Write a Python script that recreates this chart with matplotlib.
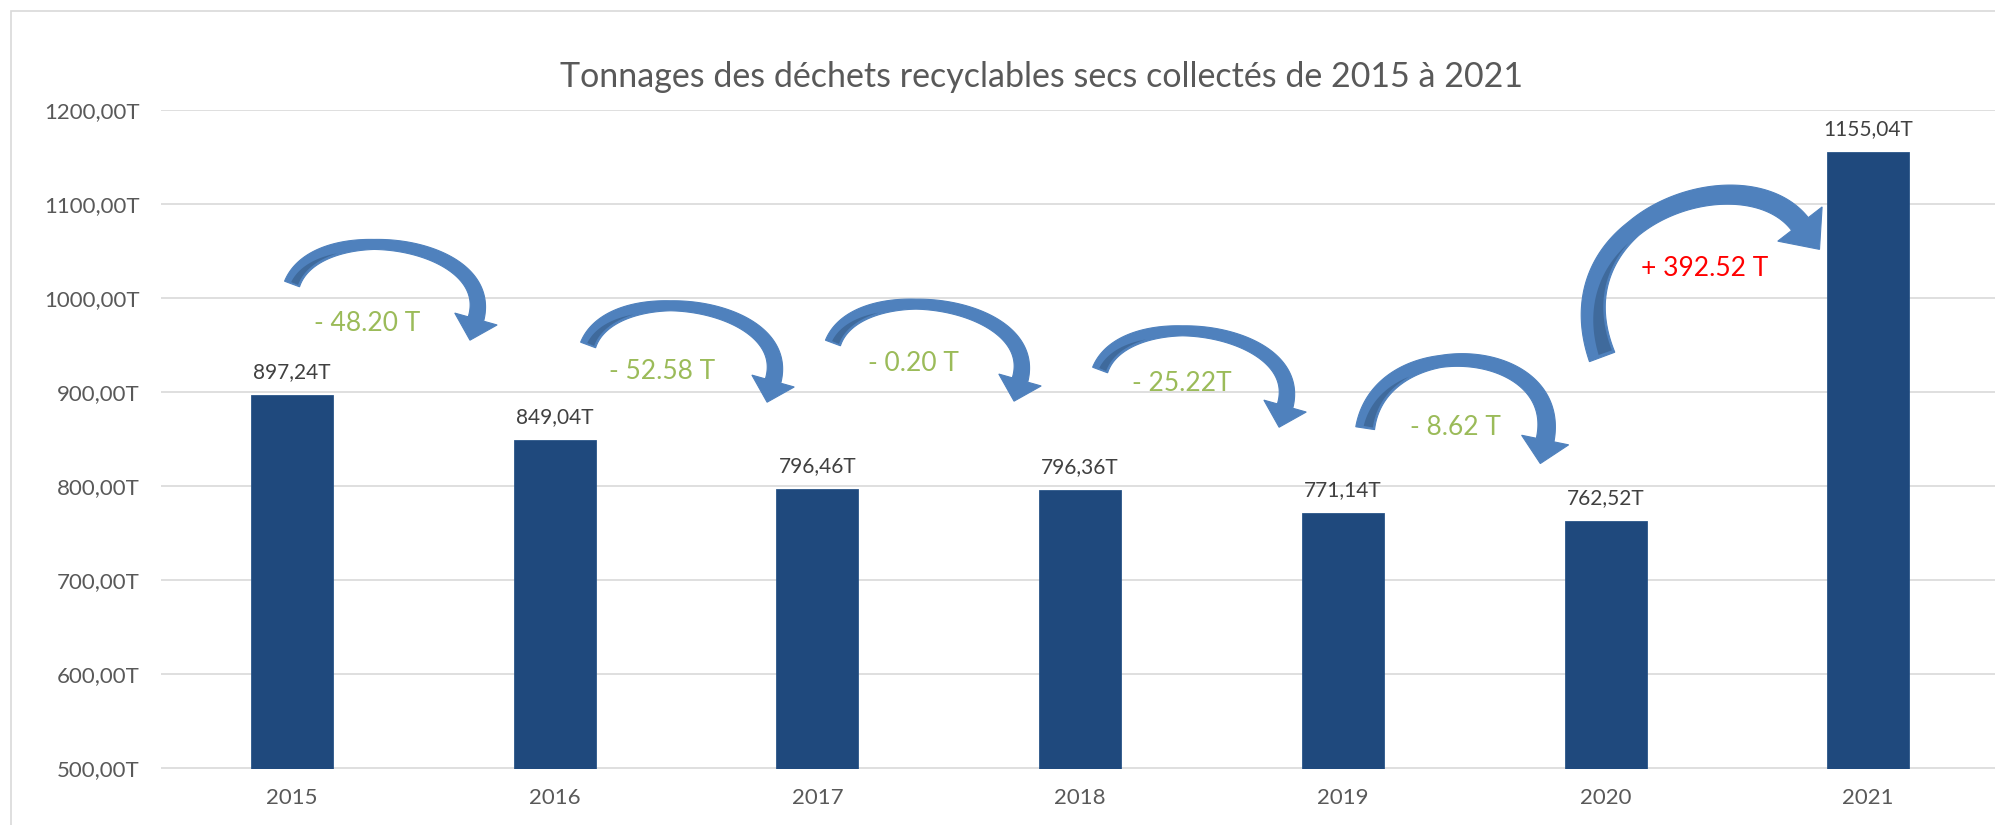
import numpy as np
import matplotlib
matplotlib.use("Agg")
import matplotlib.pyplot as plt
from matplotlib.patches import Polygon, Rectangle
from matplotlib.transforms import IdentityTransform

# ---------------- data ----------------
years = ["2015", "2016", "2017", "2018", "2019", "2020", "2021"]
tonnages = [897.24, 849.04, 796.46, 796.36, 771.14, 762.52, 1155.04]
bar_labels = ["897,24T", "849,04T", "796,46T", "796,36T", "771,14T", "762,52T", "1155,04T"]
ytick_values = [500, 600, 700, 800, 900, 1000, 1100, 1200]
ytick_labels = ["500,00T", "600,00T", "700,00T", "800,00T", "900,00T",
                "1000,00T", "1100,00T", "1200,00T"]
diff_labels = ["- 48.20 T", "- 52.58 T", "- 0.20 T", "- 25.22T", "- 8.62 T", "+ 392.52 T"]
diff_colors = ["#9BBB59"] * 5 + ["#FF0000"]
diff_x = [0.285, 1.408, 2.364, 3.388, 4.427, 5.379]
diff_y = [973.3, 922.3, 929.8, 909.6, 862.8, 1031.8]
title = "Tonnages des déchets recyclables secs collectés de 2015 à 2021"

# arrow anchors (data coords): tail point and head-base point
arrow_tail = [(0.0, 1014.8), (1.127, 950.0), (2.059, 952.1), (3.076, 923.4), (4.085, 861.6), (4.987, 937.3)]
arrow_head = [(0.700, 977.6), (1.831, 911.7), (2.771, 912.8), (3.780, 885.1), (4.770, 849.0), (5.740, 1078.5)]

W, H = 1995, 825
DPI = 100
FONT = ["Lato", "DejaVu Sans"]
plt.rcParams["font.family"] = FONT

fig = plt.figure(figsize=(W / DPI, H / DPI), dpi=DPI)
fig.patch.set_facecolor("white")

# chart border
fig.add_artist(Rectangle((10.5 / W, -0.5), 3, 1.5 - 11 / H, transform=fig.transFigure,
                         fill=False, edgecolor="#D9D9D9", lw=1.2))

left, bottom = 160.7 / W, 56.5 / H
width, height = 262.7 * 7 / W, (768.5 - 109.7) / H
ax = fig.add_axes([left, bottom, width, height])

x = np.arange(len(years))
ax.bar(x, tonnages, width=0.312, color="#1F497D", edgecolor="#2A5689", lw=0.6, zorder=2)
ax.set_xlim(-0.5, len(years) - 0.5)
ax.set_ylim(500, 1200)
ax.set_yticks(ytick_values)
ax.set_yticklabels(ytick_labels)
ax.set_xticks(x)
ax.set_xticklabels(years)
for s in ax.spines.values():
    s.set_visible(False)
ax.tick_params(axis="both", length=0, labelsize=16, labelcolor="#595959")
ax.tick_params(axis="y", pad=15)
ax.tick_params(axis="x", pad=14)
ax.yaxis.grid(True, color="#D9D9D9", lw=1.2, zorder=0)
ax.set_axisbelow(True)

for xi, v, lab in zip(x, tonnages, bar_labels):
    ax.annotate(lab, (xi, v), xytext=(0, 16.5), textcoords="offset points",
                ha="center", va="center", fontsize=15, color="#404040", zorder=5)

fig.text(1041 / W, 1 - 86.7 / H, title, ha="center", va="baseline",
         fontsize=24.5, color="#595959")

# ---------- curved arrows ----------
def bez(P0, P1, P2, P3, t):
    t = t[:, None]
    return ((1 - t) ** 3) * P0 + 3 * ((1 - t) ** 2) * t * P1 + 3 * (1 - t) * t ** 2 * P2 + t ** 3 * P3

def bez_d(P0, P1, P2, P3, t):
    t = t[:, None]
    return 3 * ((1 - t) ** 2) * (P1 - P0) + 6 * (1 - t) * t * (P2 - P1) + 3 * t ** 2 * (P3 - P2)

def unit(v):
    v = np.asarray(v, float)
    return v / np.linalg.norm(v)

def curved_arrow(tail, head, tan0, tan1, a, b, widths, head_w, head_len, dark_end,
                 color="#4F81BD", dark="#3F6A9C"):
    T = ax.transData.transform(tail)
    Hh = ax.transData.transform(head)
    t0 = unit([tan0[0], -tan0[1]])
    t1 = unit([tan1[0], -tan1[1]])
    P1 = T + a * t0
    P2 = Hh - b * t1
    t = np.linspace(0, 1, 300)
    C = bez(T, P1, P2, Hh, t)
    D = bez_d(T, P1, P2, Hh, t)
    D = D / np.linalg.norm(D, axis=1)[:, None]
    N = np.column_stack([-D[:, 1], D[:, 0]])  # left normal (outer side)
    w = np.interp(t, [0, 0.4, 1], widths)
    outer = C + N * (w / 2)[:, None]
    inner = C - N * (w / 2)[:, None]
    nH = N[-1]
    tip = Hh + t1 * head_len
    barb_in = Hh - nH * head_w / 2
    barb_out = Hh + nH * head_w / 2
    pts = np.vstack([inner, [barb_in, tip, barb_out], outer[::-1]])
    ax.add_patch(Polygon(pts, closed=True, transform=IdentityTransform(),
                         facecolor=color, edgecolor=color, lw=0.8, zorder=4))
    # darker underside near the tail
    m = t <= dark_end
    tt = t[m]
    frac = 0.6 * (1 - (tt / dark_end) ** 1.3)
    s_in = -w[m] / 2 + 2.0
    s_out = s_in + np.maximum(frac * w[m] - 2.0, 0)
    a_pts = C[m] + N[m] * s_in[:, None]
    b_pts = C[m] + N[m] * s_out[:, None]
    a_pts = a_pts[2:]
    b_pts = b_pts[2:]
    dpts = np.vstack([a_pts, b_pts[::-1]])
    ax.add_patch(Polygon(dpts, closed=True, transform=IdentityTransform(),
                         facecolor=dark, edgecolor="none", zorder=4.5))

arrow_params = [
    dict(tan0=(0.35, -0.94), tan1=(-0.27, 0.96), a=72, b=82, widths=(16, 10, 16), head_w=44, head_len=22, dark_end=0.33),
    dict(tan0=(0.35, -0.94), tan1=(-0.27, 0.96), a=72, b=82, widths=(16, 10, 16), head_w=44, head_len=22, dark_end=0.33),
    dict(tan0=(0.35, -0.94), tan1=(-0.27, 0.96), a=72, b=82, widths=(16, 10, 16), head_w=44, head_len=22, dark_end=0.33),
    dict(tan0=(0.35, -0.94), tan1=(-0.27, 0.96), a=72, b=82, widths=(16, 10, 16), head_w=44, head_len=22, dark_end=0.33),
    dict(tan0=(0.15, -0.99), tan1=(-0.2, 0.98), a=100, b=100, widths=(19, 12, 18), head_w=48, head_len=24, dark_end=0.33),
    dict(tan0=(-0.35, -0.94), tan1=(0.61, 0.79), a=150, b=90, widths=(27, 17, 21), head_w=56, head_len=32, dark_end=0.42),
]
for tl, hd, p in zip(arrow_tail, arrow_head, arrow_params):
    curved_arrow(tl, hd, **p)

for lx, ly, lab, c in zip(diff_x, diff_y, diff_labels, diff_colors):
    ax.text(lx, ly, lab, ha="center", va="center", fontsize=19, color=c, zorder=6)

fig.savefig("out.png", dpi=DPI, facecolor="white")
